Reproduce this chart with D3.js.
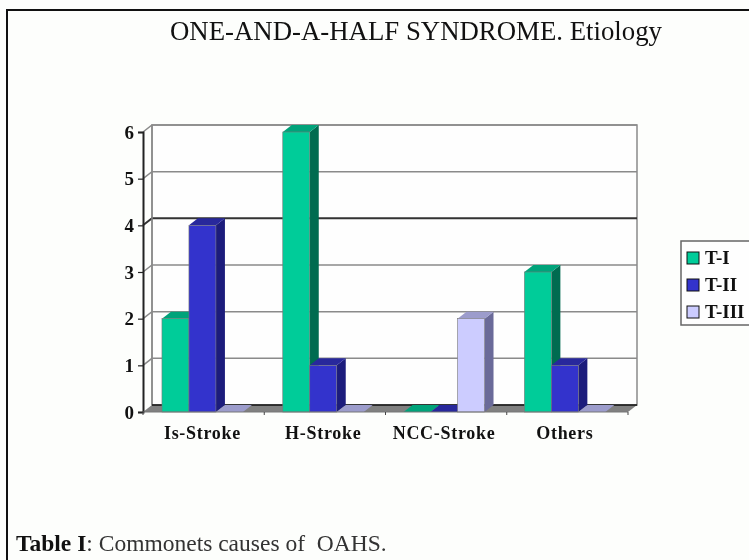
<!DOCTYPE html>
<html>
<head>
<meta charset="utf-8">
<script src="https://cdn.jsdelivr.net/npm/d3@7"></script>
<style>
  html, body { margin: 0; padding: 0; background: #fdfefc; }
  svg { display: block; filter: blur(0.6px); }
  text { font-family: "Liberation Serif", serif; fill: #111; }
</style>
</head>
<body>
<div id="chart"></div>
<script>
const categories = ["Is-Stroke", "H-Stroke", "NCC-Stroke", "Others"];
const seriesNames = ["T-I", "T-II", "T-III"];
const tI = [2, 6, 0, 3];
const tII = [4, 1, 0, 1];
const tIII = [0, 0, 2, 0];
const yTicks = [0, 1, 2, 3, 4, 5, 6];
const seriesValues = [tI, tII, tIII];

const frontColors = ["#00cc99", "#3333cc", "#ccccff"];
const sideColors = ["#006b50", "#1c1c7c", "#6a6a99"];
const topColors = ["#00a37a", "#28289c", "#9c9ccc"];

const width = 749, height = 560;
const depthX = 9, depthY = -7;  // offset of the back wall

const svg = d3.select("#chart").append("svg").attr("width", width).attr("height", height);

// page frame, open on the right
svg.append("path")
    .attr("d", "M7,560V10H749")
    .attr("fill", "none").attr("stroke", "#111").attr("stroke-width", 2);

svg.append("text").attr("x", 416).attr("y", 40).attr("text-anchor", "middle")
    .attr("font-size", 26.8).attr("fill", "#222").text("ONE-AND-A-HALF SYNDROME. Etiology");

const x0 = 143, x1 = 628;
const yScale = d3.scaleLinear().domain([0, 6]).range([412, 132]);
const xScale = d3.scaleBand().domain(categories).range([x0, 624.3]).paddingInner(0.33).paddingOuter(0.157);
const xSub = d3.scaleBand().domain(seriesNames).range([0, xScale.bandwidth()]);

const pts = (a) => "M" + a.map((p) => p.join(",")).join("L") + "Z";

// back wall
svg.append("path")
    .attr("d", pts([[x0 + depthX, yScale(6) + depthY], [x1 + depthX, yScale(6) + depthY], [x1 + depthX, yScale(0) + depthY], [x0 + depthX, yScale(0) + depthY]]))
    .attr("fill", "#fefefe").attr("stroke", "#8a8a8a").attr("stroke-width", 1.5);

// gridlines on side wall and back wall
svg.append("g").selectAll("path").data(yTicks.filter((d) => d > 0)).join("path")
    .attr("d", (d) => `M${x0},${yScale(d)}L${x0 + depthX},${yScale(d) + depthY}H${x1 + depthX}`)
    .attr("fill", "none")
    .attr("stroke", (d) => d == 4 ? "#333" : "#8a8a8a")
    .attr("stroke-width", (d) => d == 4 ? 2 : 1.5);

svg.append("line")
    .attr("x1", x0 + depthX).attr("x2", x0 + depthX)
    .attr("y1", yScale(6) + depthY).attr("y2", yScale(0) + depthY)
    .attr("stroke", "#8a8a8a").attr("stroke-width", 1.5);

// floor
svg.append("path")
    .attr("d", pts([[x0, yScale(0)], [x0 + depthX, yScale(0) + depthY], [x1 + depthX, yScale(0) + depthY], [x1, yScale(0)]]))
    .attr("fill", "#808080");
svg.append("line")
    .attr("x1", x0 + depthX).attr("x2", x1 + depthX)
    .attr("y1", yScale(0) + depthY).attr("y2", yScale(0) + depthY)
    .attr("stroke", "#111").attr("stroke-width", 1.5);

// bars
const bars = [];
categories.forEach((c, i) => {
    seriesNames.forEach((s, j) => {
        bars.push({ c: c, s: s, j: j, v: seriesValues[j][i] });
    });
});

const bar = svg.append("g").selectAll("g").data(bars).join("g");
const bx = (d) => xScale(d.c) + xSub(d.s);
const bw = xSub.bandwidth();

bar.append("path")
    .attr("d", (d) => pts([[bx(d) + bw, yScale(d.v)], [bx(d) + bw + depthX, yScale(d.v) + depthY], [bx(d) + bw + depthX, yScale(0) + depthY], [bx(d) + bw, yScale(0)]]))
    .attr("fill", (d) => sideColors[d.j]);
bar.append("path")
    .attr("d", (d) => pts([[bx(d), yScale(d.v)], [bx(d) + depthX, yScale(d.v) + depthY], [bx(d) + bw + depthX, yScale(d.v) + depthY], [bx(d) + bw, yScale(d.v)]]))
    .attr("fill", (d) => topColors[d.j]);
bar.filter((d) => d.v > 0).append("rect")
    .attr("x", bx).attr("y", (d) => yScale(d.v))
    .attr("width", bw).attr("height", (d) => yScale(0) - yScale(d.v))
    .attr("fill", (d) => frontColors[d.j])
    .attr("stroke", "#777").attr("stroke-width", 0.6);

// y axis
const yAxis = d3.axisLeft(yScale).tickValues(yTicks).tickFormat(d3.format("d")).tickSize(5).tickPadding(4);
const yG = svg.append("g").attr("transform", `translate(${x0},0)`).call(yAxis);
yG.select(".domain").attr("stroke", "#222").attr("stroke-width", 2);
yG.selectAll(".tick line").attr("stroke", "#222").attr("stroke-width", 1.2);
yG.selectAll("text").attr("font-size", 19).attr("font-weight", "bold")
    .style("font-family", '"Liberation Serif", serif').attr("fill", "#222");

// x axis
const xG = svg.append("g").attr("transform", `translate(0,${yScale(0)})`);
xG.append("line").attr("x1", x0).attr("x2", x1).attr("stroke", "#777").attr("stroke-width", 1);
const xEdges = categories.map((c, i) => x0 + (x1 - x0) / categories.length * i).concat([x1]);
xG.selectAll(".edge").data(xEdges).join("line").attr("class", "edge")
    .attr("x1", (d) => d).attr("x2", (d) => d).attr("y1", 0).attr("y2", 3)
    .attr("stroke", "#444");
xG.selectAll(".cat").data(categories).join("text").attr("class", "cat")
    .attr("x", (d) => xScale(d) + xScale.bandwidth() / 2).attr("y", 27)
    .attr("text-anchor", "middle").attr("font-size", 18).attr("font-weight", "bold")
    .attr("letter-spacing", 0.7).attr("fill", "#222")
    .text((d) => d);

// legend
const legend = svg.append("g").attr("transform", "translate(681,241)");
legend.append("rect").attr("width", 72).attr("height", 84)
    .attr("fill", "#fefefe").attr("stroke", "#666").attr("stroke-width", 1.5);
const item = legend.selectAll(".item").data(seriesNames).join("g").attr("class", "item")
    .attr("transform", (d, i) => `translate(6,${11 + i * 27})`);
item.append("rect").attr("width", 12).attr("height", 12)
    .attr("fill", (d, i) => frontColors[i]).attr("stroke", "#111").attr("stroke-width", 1);
item.append("text").attr("x", 18).attr("y", 12).attr("font-size", 19).attr("font-weight", "bold")
    .attr("fill", "#222").text((d) => d);

// caption under the figure
const caption = svg.append("text").attr("x", 16).attr("y", 551).attr("font-size", 23.5)
    .attr("xml:space", "preserve").style("white-space", "pre");
caption.append("tspan").attr("font-weight", "bold").text("Table I");
caption.append("tspan").attr("fill", "#333").text(": Commonets causes of  OAHS.");
</script>
</body>
</html>
